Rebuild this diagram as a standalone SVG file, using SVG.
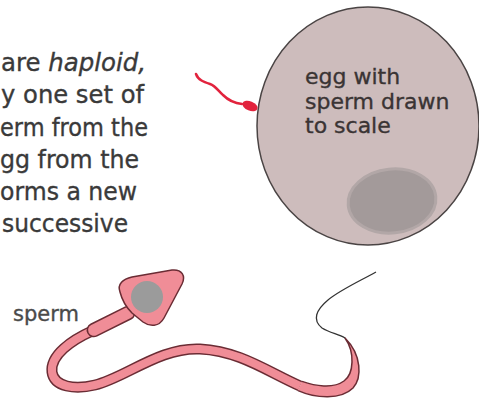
<svg xmlns="http://www.w3.org/2000/svg" width="479" height="400" viewBox="0 0 479 400">
  <style>
    .body { font-family: "DejaVu Sans", "Liberation Sans", sans-serif; fill: #3a3a3a; stroke: #3a3a3a; stroke-width: 0.35; }
    .para { font-size: 24px; }
    .label { font-size: 22px; fill: #3a3434; stroke: #3a3434; }
    .tag { font-size: 21px; fill: #4a4a4a; stroke: #4a4a4a; }
    .pink { fill: #f08d97; stroke: #6a2c34; stroke-width: 1.5; }
  </style>

  <rect width="479" height="400" fill="#ffffff"/>

  <!-- paragraph text, running in from the left edge -->
  <g id="paragraph" class="body para">
    <text x="1" y="71" textLength="145" lengthAdjust="spacingAndGlyphs">are <tspan font-style="italic">haploid,</tspan></text>
    <text x="1" y="103" textLength="143" lengthAdjust="spacingAndGlyphs">y one set of</text>
    <text x="0" y="136" textLength="148" lengthAdjust="spacingAndGlyphs">erm from the</text>
    <text x="0" y="168" textLength="139" lengthAdjust="spacingAndGlyphs">gg from the</text>
    <text x="0" y="200" textLength="137" lengthAdjust="spacingAndGlyphs">orms a new</text>
    <text x="2" y="232" textLength="126" lengthAdjust="spacingAndGlyphs">successive</text>
  </g>

  <!-- egg cell -->
  <g id="egg">
    <ellipse cx="368" cy="126" rx="111" ry="119" fill="#cdbcbc" stroke="#4a4444" stroke-width="1.5"/>
    <ellipse cx="392" cy="201" rx="44" ry="32" fill="#a39a9a" stroke="#b2a7a7" stroke-width="3" transform="rotate(-6 392 201)"/>
    <g class="body label">
      <text x="305" y="84">egg with</text>
      <text x="305" y="108.5">sperm drawn</text>
      <text x="305" y="133">to scale</text>
    </g>
  </g>

  <!-- sperm at the same scale as the egg -->
  <g id="sperm-to-scale">
    <path d="M196,74 C198,80 204,82 210,84 C216,86 219,92 223,95 C227,99 232,103 242,104" fill="none" stroke="#e2233d" stroke-width="2.5" stroke-linecap="round"/>
    <ellipse cx="250" cy="106" rx="8" ry="4.6" fill="#e2233d" transform="rotate(22 250 106)"/>
  </g>

  <!-- enlarged sperm -->
  <g id="sperm">
    <!-- flagellum: outlined band -->
    <path d="M92,331 C72,340 50,355 52,372 C54,387 75,390 95,385 C125,378 160,347 200,349 C240,351 268,372 300,386" fill="none" stroke="#6a2c34" stroke-width="11"/>
    <path d="M92,331 C72,340 50,355 52,372 C54,387 75,390 95,385 C125,378 160,347 200,349 C240,351 268,372 300,386" fill="none" stroke="#f08d97" stroke-width="8"/>
    <!-- tapering end of the band -->
    <path d="M298,390.6 C316,398.5 341,400 353,388 C362,378 362,355 345,338 C355,352 354,374 344,381 C333,389 315,386 302,381.4" fill="#f08d97" stroke="#6a2c34" stroke-width="1.5" stroke-linejoin="round"/>
    <!-- thin end piece -->
    <path d="M376,272 C360,281 340,290 328,300 C316,310 312,320 322,328 C330,333 338,334 345,338" fill="none" stroke="#333333" stroke-width="1.3"/>
    <!-- midpiece -->
    <rect class="pink" x="-25.7" y="-6.5" width="51.4" height="13" rx="6.5" transform="translate(111 321.5) rotate(-26.6)"/>
    <!-- head with nucleus -->
    <path class="pink" d="M120,292 C117,284 123,279 132,277 L172,270 C182,269 186,276 182,284 L164,318 C159,327 150,327 143,322 L132,313 C125,306 122,300 120,292 Z"/>
    <circle cx="147" cy="297" r="16" fill="#9b9b9b"/>
  </g>

  <g id="sperm-label" class="body tag">
    <text x="13" y="321">sperm</text>
  </g>
</svg>
